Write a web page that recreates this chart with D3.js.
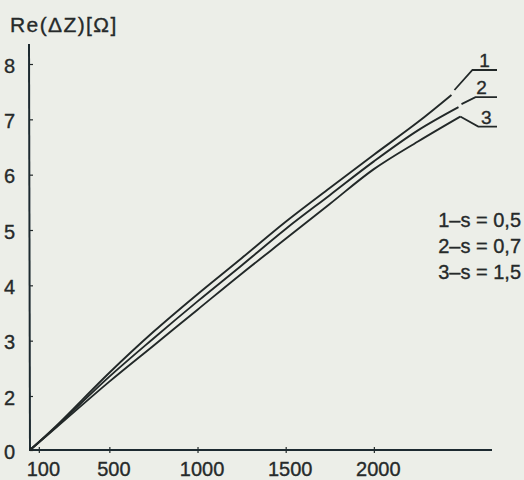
<!DOCTYPE html>
<html>
<head>
<meta charset="utf-8">
<script src="https://cdn.jsdelivr.net/npm/d3@7/dist/d3.min.js"></script>
<style>
  html, body { margin: 0; padding: 0; background: #eceee8; }
  svg { display: block; }
  text { font-family: "Liberation Sans Narrow", "Liberation Sans", sans-serif; fill: #262a2a; stroke: #262a2a; stroke-width: 0.35px; }
</style>
</head>
<body>
<svg id="chart" width="524" height="480"></svg>
<script>
// ---- data ----
const freqTicks = [100, 500, 1000, 1500, 2000];
const yTicks = [0, 2, 3, 4, 5, 6, 7, 8];
const curveNames = ["1", "2", "3"];
const legendLabels = ["1\u2013s = 0,5", "2\u2013s = 0,7", "3\u2013s = 1,5"];

const freq1 = [50, 200, 500, 750, 1000, 1250, 1500, 1750, 2000, 2250, 2440];
const re1   = [0, 0.90, 2.42, 3.16, 3.84, 4.49, 5.15, 5.76, 6.36, 6.95, 7.44];
const freq2 = [50, 200, 500, 750, 1000, 1250, 1500, 1750, 2000, 2250, 2480];
const re2   = [0, 0.87, 2.35, 3.04, 3.71, 4.36, 5.02, 5.63, 6.24, 6.80, 7.22];
const freq3 = [50, 200, 500, 750, 1000, 1250, 1500, 1750, 2000, 2250, 2490];
const re3   = [0, 0.84, 2.26, 2.91, 3.56, 4.21, 4.84, 5.47, 6.10, 6.60, 7.05];

const series = [
  { name: curveNames[0], f: freq1, v: re1 },
  { name: curveNames[1], f: freq2, v: re2 },
  { name: curveNames[2], f: freq3, v: re3 }
];

// ---- scales ----
const svg = d3.select("#chart");
const x = d3.scaleLinear().domain([50, 2670]).range([30, 492]);
// broken vertical axis: 0..2 compressed as in the original drawing
const y = d3.scaleLinear().domain([0, 2, 8]).range([450, 396, 64]);

const ink = "#222828";

// axes
const xAxis = d3.axisBottom(x).tickValues(freqTicks).tickFormat(d3.format("d"))
  .tickSizeInner(3).tickSizeOuter(0).tickPadding(9);
const gx = svg.append("g").attr("transform", "translate(0,450)").call(xAxis);
gx.select(".domain").remove();
gx.selectAll(".tick line").attr("y1", -3).attr("y2", 3).attr("stroke", ink).attr("stroke-width", 1.2);
gx.selectAll(".tick text").attr("font-size", 20).attr("dx", 4)
  .attr("font-family", "Liberation Sans Narrow, sans-serif").attr("fill", "#262a2a");
svg.append("line").attr("x1", x(50)).attr("x2", 492).attr("y1", 450).attr("y2", 450)
  .attr("stroke", "#1d2a30").attr("stroke-width", 2);

const yAxis = d3.axisLeft(y).tickValues(yTicks).tickFormat(d3.format("d"))
  .tickSizeInner(-3).tickSizeOuter(0).tickPadding(15);
const gy = svg.append("g").attr("transform", "translate(30,0)").call(yAxis);
gy.select(".domain").remove();
gy.selectAll(".tick line").attr("stroke", ink).attr("stroke-width", 1.2);
gy.selectAll(".tick text").attr("font-size", 20).attr("dy", "0.4em")
  .attr("font-family", "Liberation Sans Narrow, sans-serif").attr("fill", "#262a2a");
svg.append("line").attr("x1", 30).attr("x2", 29).attr("y1", 451).attr("y2", 44)
  .attr("stroke", "#1d2a30").attr("stroke-width", 2);

// axis title
svg.append("text").attr("x", 10).attr("y", 32).attr("font-size", 21)
  .attr("letter-spacing", 1.4).text("Re(\u0394Z)[\u03A9]");

// curves
const line = d3.line().x(d => x(d[0])).y(d => y(d[1])).curve(d3.curveCatmullRom.alpha(0.5));
series.forEach(s => {
  const pts = s.f.map((f, i) => [f, s.v[i]]);
  svg.append("path").attr("d", line(pts)).attr("fill", "none")
    .attr("stroke", ink).attr("stroke-width", 1.9);
});

// leader lines and curve numbers
const leaders = [
  { gap: [3, -5], kink: [21, -25], lab: [33, -29] },
  { gap: [3, -3], kink: [17, -10], lab: [23, -12] },
  { gap: [0, 0],  kink: [18, 10],  lab: [26, 8] }
];
series.forEach((s, i) => {
  const n = s.f.length - 1;
  const ex = x(s.f[n]), ey = y(s.v[n]);
  const L = leaders[i];
  const kx = ex + L.kink[0], ky = ey + L.kink[1];
  svg.append("path")
    .attr("d", `M${ex + L.gap[0]},${ey + L.gap[1]}L${kx},${ky}L497,${ky}`)
    .attr("fill", "none").attr("stroke", ink).attr("stroke-width", 1.8);
  svg.append("text").attr("x", ex + L.lab[0]).attr("y", ky - 3)
    .attr("text-anchor", "middle").attr("font-size", 19).text(s.name);
});

// legend text
legendLabels.forEach((t, i) => {
  svg.append("text").attr("x", 521).attr("y", 227 + i * 26)
    .attr("text-anchor", "end").attr("font-size", 20).text(t);
});
</script>
</body>
</html>
